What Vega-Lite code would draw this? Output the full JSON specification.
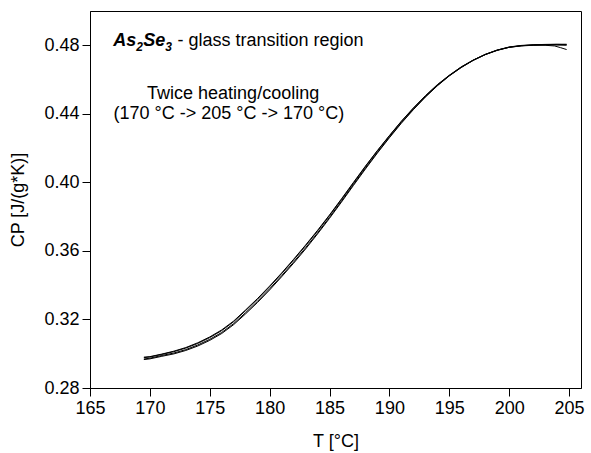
{
  "$schema": "https://vega.github.io/schema/vega-lite/v6.json",
  "width": 491,
  "height": 377,
  "autosize": "none",
  "padding": {"left": 90, "top": 11, "right": 10, "bottom": 65},
  "background": "white",
  "config": {
    "view": {"stroke": "black", "strokeWidth": 1},
    "font": "Liberation Sans",
    "axis": {
      "domainColor": "black", "tickColor": "black", "labelColor": "black", "titleColor": "black",
      "labelFont": "Liberation Sans", "titleFont": "Liberation Sans",
      "labelFontSize": 18, "titleFontSize": 18, "titleFontWeight": "normal",
      "grid": false, "tickWidth": 1, "domainWidth": 1
    }
  },
  "datasets": {
    "note": [{"label": "annotation"}],
    "curves": [
      {"run": "heating 1", "T": 169.5, "Cp": 0.2966}, {"run": "heating 1", "T": 170, "Cp": 0.2970}, {"run": "heating 1", "T": 171, "Cp": 0.2985}, {"run": "heating 1", "T": 172, "Cp": 0.2999}, {"run": "heating 1", "T": 173, "Cp": 0.3019}, {"run": "heating 1", "T": 174, "Cp": 0.3045}, {"run": "heating 1", "T": 175, "Cp": 0.3078}, {"run": "heating 1", "T": 176, "Cp": 0.3118}, {"run": "heating 1", "T": 177, "Cp": 0.3170}, {"run": "heating 1", "T": 178, "Cp": 0.3233}, {"run": "heating 1", "T": 179, "Cp": 0.3300}, {"run": "heating 1", "T": 180, "Cp": 0.3372}, {"run": "heating 1", "T": 181, "Cp": 0.3449}, {"run": "heating 1", "T": 182, "Cp": 0.3528}, {"run": "heating 1", "T": 183, "Cp": 0.3611}, {"run": "heating 1", "T": 184, "Cp": 0.3699}, {"run": "heating 1", "T": 185, "Cp": 0.3790}, {"run": "heating 1", "T": 186, "Cp": 0.3885}, {"run": "heating 1", "T": 187, "Cp": 0.3982}, {"run": "heating 1", "T": 188, "Cp": 0.4078}, {"run": "heating 1", "T": 189, "Cp": 0.4171}, {"run": "heating 1", "T": 190, "Cp": 0.4260}, {"run": "heating 1", "T": 191, "Cp": 0.4345}, {"run": "heating 1", "T": 192, "Cp": 0.4424}, {"run": "heating 1", "T": 193, "Cp": 0.4497}, {"run": "heating 1", "T": 194, "Cp": 0.4563}, {"run": "heating 1", "T": 195, "Cp": 0.4621}, {"run": "heating 1", "T": 196, "Cp": 0.4670}, {"run": "heating 1", "T": 197, "Cp": 0.4712}, {"run": "heating 1", "T": 198, "Cp": 0.4745}, {"run": "heating 1", "T": 199, "Cp": 0.4770}, {"run": "heating 1", "T": 200, "Cp": 0.4788}, {"run": "heating 1", "T": 201, "Cp": 0.4797}, {"run": "heating 1", "T": 202, "Cp": 0.4802}, {"run": "heating 1", "T": 203, "Cp": 0.4804}, {"run": "heating 1", "T": 204, "Cp": 0.4805}, {"run": "heating 1", "T": 204.8, "Cp": 0.4804},
      {"run": "heating 2", "T": 169.5, "Cp": 0.2969}, {"run": "heating 2", "T": 170, "Cp": 0.2974}, {"run": "heating 2", "T": 171, "Cp": 0.2990}, {"run": "heating 2", "T": 172, "Cp": 0.3004}, {"run": "heating 2", "T": 173, "Cp": 0.3024}, {"run": "heating 2", "T": 174, "Cp": 0.3051}, {"run": "heating 2", "T": 175, "Cp": 0.3084}, {"run": "heating 2", "T": 176, "Cp": 0.3124}, {"run": "heating 2", "T": 177, "Cp": 0.3176}, {"run": "heating 2", "T": 178, "Cp": 0.3240}, {"run": "heating 2", "T": 179, "Cp": 0.3307}, {"run": "heating 2", "T": 180, "Cp": 0.3379}, {"run": "heating 2", "T": 181, "Cp": 0.3455}, {"run": "heating 2", "T": 182, "Cp": 0.3535}, {"run": "heating 2", "T": 183, "Cp": 0.3618}, {"run": "heating 2", "T": 184, "Cp": 0.3705}, {"run": "heating 2", "T": 185, "Cp": 0.3796}, {"run": "heating 2", "T": 186, "Cp": 0.3891}, {"run": "heating 2", "T": 187, "Cp": 0.3988}, {"run": "heating 2", "T": 188, "Cp": 0.4084}, {"run": "heating 2", "T": 189, "Cp": 0.4176}, {"run": "heating 2", "T": 190, "Cp": 0.4264}, {"run": "heating 2", "T": 191, "Cp": 0.4349}, {"run": "heating 2", "T": 192, "Cp": 0.4427}, {"run": "heating 2", "T": 193, "Cp": 0.4500}, {"run": "heating 2", "T": 194, "Cp": 0.4565}, {"run": "heating 2", "T": 195, "Cp": 0.4622}, {"run": "heating 2", "T": 196, "Cp": 0.4671}, {"run": "heating 2", "T": 197, "Cp": 0.4712}, {"run": "heating 2", "T": 198, "Cp": 0.4746}, {"run": "heating 2", "T": 199, "Cp": 0.4772}, {"run": "heating 2", "T": 200, "Cp": 0.4790}, {"run": "heating 2", "T": 201, "Cp": 0.4799}, {"run": "heating 2", "T": 202, "Cp": 0.4803}, {"run": "heating 2", "T": 203, "Cp": 0.4805}, {"run": "heating 2", "T": 204, "Cp": 0.4806}, {"run": "heating 2", "T": 204.8, "Cp": 0.4806},
      {"run": "cooling 1", "T": 169.5, "Cp": 0.2980}, {"run": "cooling 1", "T": 170, "Cp": 0.2983}, {"run": "cooling 1", "T": 171, "Cp": 0.2998}, {"run": "cooling 1", "T": 172, "Cp": 0.3015}, {"run": "cooling 1", "T": 173, "Cp": 0.3036}, {"run": "cooling 1", "T": 174, "Cp": 0.3064}, {"run": "cooling 1", "T": 175, "Cp": 0.3098}, {"run": "cooling 1", "T": 176, "Cp": 0.3139}, {"run": "cooling 1", "T": 177, "Cp": 0.3191}, {"run": "cooling 1", "T": 178, "Cp": 0.3256}, {"run": "cooling 1", "T": 179, "Cp": 0.3323}, {"run": "cooling 1", "T": 180, "Cp": 0.3395}, {"run": "cooling 1", "T": 181, "Cp": 0.3471}, {"run": "cooling 1", "T": 182, "Cp": 0.3551}, {"run": "cooling 1", "T": 183, "Cp": 0.3634}, {"run": "cooling 1", "T": 184, "Cp": 0.3720}, {"run": "cooling 1", "T": 185, "Cp": 0.3810}, {"run": "cooling 1", "T": 186, "Cp": 0.3904}, {"run": "cooling 1", "T": 187, "Cp": 0.4000}, {"run": "cooling 1", "T": 188, "Cp": 0.4095}, {"run": "cooling 1", "T": 189, "Cp": 0.4186}, {"run": "cooling 1", "T": 190, "Cp": 0.4273}, {"run": "cooling 1", "T": 191, "Cp": 0.4357}, {"run": "cooling 1", "T": 192, "Cp": 0.4434}, {"run": "cooling 1", "T": 193, "Cp": 0.4505}, {"run": "cooling 1", "T": 194, "Cp": 0.4570}, {"run": "cooling 1", "T": 195, "Cp": 0.4625}, {"run": "cooling 1", "T": 196, "Cp": 0.4674}, {"run": "cooling 1", "T": 197, "Cp": 0.4714}, {"run": "cooling 1", "T": 198, "Cp": 0.4746}, {"run": "cooling 1", "T": 199, "Cp": 0.4771}, {"run": "cooling 1", "T": 200, "Cp": 0.4788}, {"run": "cooling 1", "T": 201, "Cp": 0.4796}, {"run": "cooling 1", "T": 202, "Cp": 0.4800}, {"run": "cooling 1", "T": 203, "Cp": 0.4800}, {"run": "cooling 1", "T": 203.8, "Cp": 0.4796}, {"run": "cooling 1", "T": 204.3, "Cp": 0.4786}, {"run": "cooling 1", "T": 204.8, "Cp": 0.4775},
      {"run": "cooling 2", "T": 169.5, "Cp": 0.2977}, {"run": "cooling 2", "T": 170, "Cp": 0.2981}, {"run": "cooling 2", "T": 171, "Cp": 0.2996}, {"run": "cooling 2", "T": 172, "Cp": 0.3012}, {"run": "cooling 2", "T": 173, "Cp": 0.3033}, {"run": "cooling 2", "T": 174, "Cp": 0.3060}, {"run": "cooling 2", "T": 175, "Cp": 0.3094}, {"run": "cooling 2", "T": 176, "Cp": 0.3135}, {"run": "cooling 2", "T": 177, "Cp": 0.3187}, {"run": "cooling 2", "T": 178, "Cp": 0.3252}, {"run": "cooling 2", "T": 179, "Cp": 0.3319}, {"run": "cooling 2", "T": 180, "Cp": 0.3391}, {"run": "cooling 2", "T": 181, "Cp": 0.3467}, {"run": "cooling 2", "T": 182, "Cp": 0.3547}, {"run": "cooling 2", "T": 183, "Cp": 0.3630}, {"run": "cooling 2", "T": 184, "Cp": 0.3716}, {"run": "cooling 2", "T": 185, "Cp": 0.3806}, {"run": "cooling 2", "T": 186, "Cp": 0.3900}, {"run": "cooling 2", "T": 187, "Cp": 0.3996}, {"run": "cooling 2", "T": 188, "Cp": 0.4092}, {"run": "cooling 2", "T": 189, "Cp": 0.4184}, {"run": "cooling 2", "T": 190, "Cp": 0.4271}, {"run": "cooling 2", "T": 191, "Cp": 0.4355}, {"run": "cooling 2", "T": 192, "Cp": 0.4432}, {"run": "cooling 2", "T": 193, "Cp": 0.4504}, {"run": "cooling 2", "T": 194, "Cp": 0.4568}, {"run": "cooling 2", "T": 195, "Cp": 0.4624}, {"run": "cooling 2", "T": 196, "Cp": 0.4673}, {"run": "cooling 2", "T": 197, "Cp": 0.4713}, {"run": "cooling 2", "T": 198, "Cp": 0.4747}, {"run": "cooling 2", "T": 199, "Cp": 0.4772}, {"run": "cooling 2", "T": 200, "Cp": 0.4789}, {"run": "cooling 2", "T": 201, "Cp": 0.4798}, {"run": "cooling 2", "T": 202, "Cp": 0.4801}, {"run": "cooling 2", "T": 203, "Cp": 0.4802}, {"run": "cooling 2", "T": 204, "Cp": 0.4801}, {"run": "cooling 2", "T": 204.8, "Cp": 0.4800}
    ]
  },
  "layer": [
    {
      "data": {"name": "curves"},
      "mark": {"type": "line", "color": "black", "strokeWidth": 1, "clip": true},
      "encoding": {
        "x": {
          "field": "T", "type": "quantitative",
          "scale": {"domain": [165, 206], "nice": false, "zero": false},
          "axis": {
            "title": "T [°C]", "titlePadding": 15,
            "values": [165, 167.5, 170, 172.5, 175, 177.5, 180, 182.5, 185, 187.5, 190, 192.5, 195, 197.5, 200, 202.5, 205],
            "labelExpr": "datum.value % 5 === 0 ? datum.label : ''",
            "tickSize": 8,
            "tickDash": {"condition": {"test": "datum.value % 5 !== 0", "value": [4, 20]}, "value": [8, 0]},
            "labelPadding": 3, "labelFlush": false, "labelOverlap": false
          }
        },
        "y": {
          "field": "Cp", "type": "quantitative",
          "scale": {"domain": [0.28, 0.5], "nice": false, "zero": false},
          "axis": {
            "title": "CP [J/(g*K)]", "titlePadding": 16,
            "values": [0.28, 0.29, 0.30, 0.31, 0.32, 0.33, 0.34, 0.35, 0.36, 0.37, 0.38, 0.39, 0.40, 0.41, 0.42, 0.43, 0.44, 0.45, 0.46, 0.47, 0.48, 0.49],
            "format": ".2f",
            "labelExpr": "round(datum.value * 100) % 4 === 0 ? datum.label : ''",
            "tickSize": 8,
            "tickDash": {"condition": {"test": "round(datum.value * 100) % 4 !== 0", "value": [4, 20]}, "value": [8, 0]},
            "labelPadding": 3, "labelFlush": false, "labelOverlap": false
          }
        },
        "detail": {"field": "run"}
      }
    },
    {
      "data": {"name": "note"},
      "mark": {"type": "text", "text": "As", "align": "left", "baseline": "middle", "fontSize": 18, "fontWeight": "bold", "fontStyle": "italic", "color": "black"},
      "encoding": {"x": {"datum": 166.94}, "y": {"datum": 0.4825}}
    },
    {
      "data": {"name": "note"},
      "mark": {"type": "text", "text": "2", "align": "left", "baseline": "middle", "fontSize": 12, "fontWeight": "bold", "fontStyle": "italic", "color": "black"},
      "encoding": {"x": {"datum": 168.86}, "y": {"datum": 0.4790}}
    },
    {
      "data": {"name": "note"},
      "mark": {"type": "text", "text": "Se", "align": "left", "baseline": "middle", "fontSize": 18, "fontWeight": "bold", "fontStyle": "italic", "color": "black"},
      "encoding": {"x": {"datum": 169.44}, "y": {"datum": 0.4825}}
    },
    {
      "data": {"name": "note"},
      "mark": {"type": "text", "text": "3", "align": "left", "baseline": "middle", "fontSize": 12, "fontWeight": "bold", "fontStyle": "italic", "color": "black"},
      "encoding": {"x": {"datum": 171.28}, "y": {"datum": 0.4790}}
    },
    {
      "data": {"name": "note"},
      "mark": {"type": "text", "text": "- glass transition region", "align": "left", "baseline": "middle", "fontSize": 18, "color": "black"},
      "encoding": {"x": {"datum": 172.3}, "y": {"datum": 0.4825}}
    },
    {
      "data": {"name": "note"},
      "mark": {"type": "text", "text": "Twice heating/cooling", "align": "center", "baseline": "middle", "fontSize": 18, "color": "black"},
      "encoding": {"x": {"datum": 176.95}, "y": {"datum": 0.4517}}
    },
    {
      "data": {"name": "note"},
      "mark": {"type": "text", "text": "(170 °C -> 205 °C -> 170 °C)", "align": "center", "baseline": "middle", "fontSize": 18, "color": "black"},
      "encoding": {"x": {"datum": 176.6}, "y": {"datum": 0.4401}}
    }
  ]
}
